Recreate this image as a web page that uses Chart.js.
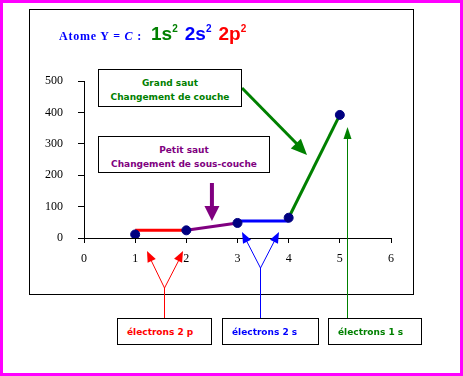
<!DOCTYPE html>
<html>
<head>
<meta charset="utf-8">
<script src="https://cdn.jsdelivr.net/npm/chart.js@4/dist/chart.umd.min.js"></script>
<style>
  html, body { margin: 0; padding: 0; background: #fff; }
  #wrap { position: relative; width: 463px; height: 376px; overflow: hidden; }
  #inner { position: absolute; left: 29px; top: 9px; width: 385px; height: 286px; box-sizing: border-box; border: 1px solid #000; }
  #frame { position: absolute; left: 0; top: 0; width: 463px; height: 376px; box-sizing: border-box; border: 3px solid #ff00ff; pointer-events: none; }
  canvas { position: absolute; left: 0; top: 0; }
  #title { position: absolute; left: 59px; top: 23px; white-space: nowrap; line-height: 20px; }
  #title .atom { font: bold 12px "Liberation Serif"; color: #0000ff; letter-spacing: 0.8px; }
  #title .big { font: bold 19px "Liberation Sans"; margin-left: 7px; }
  #title .first { margin-left: 9px; }
  #title sup { font-size: 10px; vertical-align: 8px; line-height: 0; }
  .box { position: absolute; box-sizing: border-box; border: 1px solid #000; background: #fff;
         font: bold 9px "DejaVu Sans"; line-height: 14px; white-space: nowrap; }
  .center { text-align: center; padding-top: 6px; }
  .small { padding: 6px 0 0 9px; }
</style>
</head>
<body>
<div id="wrap">
  <div id="inner"></div>
  <canvas id="chart" width="463" height="376"></canvas>
  <div id="title">
    <span class="atom">Atome Y = <i>C</i> :</span><span class="big first" style="color:#008000">1s<sup>2</sup></span><span class="big" style="color:#0000ff">2s<sup>2</sup></span><span class="big" style="color:#ff0000">2p<sup>2</sup></span>
  </div>
  <div class="box center" style="left:98px;top:69px;width:144px;height:38px;color:#008000">Grand saut<br>Changement de couche</div>
  <div class="box center" style="left:98px;top:136px;width:172px;height:37px;color:#800080">Petit saut<br>Changement de sous-couche</div>
  <div class="box small" style="left:117px;top:318px;width:95px;height:27px;color:#ff0000">électrons 2 p</div>
  <div class="box small" style="left:222px;top:318px;width:97px;height:27px;color:#0000ff">électrons 2 s</div>
  <div class="box small" style="left:328px;top:318px;width:94px;height:27px;color:#008000">électrons 1 s</div>
  <div id="frame"></div>
</div>
<script>
// energies d'ionisation successives du carbone (eV)
const electrons = [1, 2, 3, 4, 5];
const energies = [11.3, 24.4, 47.9, 64.5, 392];

// segments colores
const seg2pX = [1, 2];
const seg2pY = [24.4, 24.4];
const segSousCoucheX = [2, 3];
const segSousCoucheY = [24.4, 47.9];
const seg2sX = [3, 4];
const seg2sY = [54, 54];
const seg1sX = [4, 5];
const seg1sY = [64.5, 392];

const xTickValues = [0, 1, 2, 3, 4, 5, 6];
const yTickValues = [0, 100, 200, 300, 400, 500];

function toPoints(xs, ys) {
  return xs.map((x, i) => ({ x: x, y: ys[i] }));
}

function lineSet(xs, ys, color) {
  return {
    data: toPoints(xs, ys),
    showLine: true,
    borderColor: color,
    borderWidth: 3,
    pointRadius: 0,
    fill: false
  };
}

// fleche pleine
function arrowHead(ctx, x1, y1, x2, y2, len, w, color) {
  const a = Math.atan2(y2 - y1, x2 - x1);
  ctx.save();
  ctx.fillStyle = color;
  ctx.translate(x2, y2);
  ctx.rotate(a);
  ctx.beginPath();
  ctx.moveTo(0, 0);
  ctx.lineTo(-len, -w / 2);
  ctx.lineTo(-len, w / 2);
  ctx.closePath();
  ctx.fill();
  ctx.restore();
}

function line(ctx, pts, color, width) {
  ctx.save();
  ctx.strokeStyle = color;
  ctx.lineWidth = width;
  ctx.beginPath();
  ctx.moveTo(pts[0][0], pts[0][1]);
  for (let i = 1; i < pts.length; i++) ctx.lineTo(pts[i][0], pts[i][1]);
  ctx.stroke();
  ctx.restore();
}

const annotations = {
  id: 'annotations',
  afterDraw(chart) {
    const ctx = chart.ctx;
    const xs = chart.scales.x;

    // grand saut
    line(ctx, [[242, 88], [298, 145]], '#008000', 3);
    arrowHead(ctx, 242, 88, 307, 155, 16, 14, '#008000');

    // petit saut
    const px = xs.getPixelForValue(2.5);
    ctx.fillStyle = '#800080';
    ctx.fillRect(px - 2, 183, 4, 24);
    arrowHead(ctx, px, 183, px, 221, 15, 15, '#800080');

    // electrons 2p
    line(ctx, [[164.5, 318], [164.5, 288]], '#ff0000', 1);
    line(ctx, [[164.5, 288], [149, 256]], '#ff0000', 1);
    line(ctx, [[164.5, 288], [181, 256]], '#ff0000', 1);
    arrowHead(ctx, 164.5, 288, 147, 251, 11, 9, '#ff0000');
    arrowHead(ctx, 164.5, 288, 183, 251, 11, 9, '#ff0000');

    // electrons 2s
    line(ctx, [[260.5, 318], [260.5, 268]], '#0000ff', 1);
    line(ctx, [[260.5, 268], [244, 236]], '#0000ff', 1);
    line(ctx, [[260.5, 268], [277, 236]], '#0000ff', 1);
    arrowHead(ctx, 260.5, 268, 242, 232, 11, 9, '#0000ff');
    arrowHead(ctx, 260.5, 268, 279, 232, 11, 9, '#0000ff');

    // electrons 1s
    line(ctx, [[347.5, 318], [347.5, 135]], '#008000', 1);
    arrowHead(ctx, 347.5, 318, 347.5, 127, 12, 8, '#008000');
  }
};

const axisFont = { family: 'Liberation Serif', size: 12 };

new Chart(document.getElementById('chart'), {
  type: 'scatter',
  data: {
    datasets: [
      {
        data: toPoints(electrons, energies),
        pointRadius: 4.5,
        pointBackgroundColor: '#000080',
        pointBorderColor: '#000080',
        showLine: false
      },
      lineSet(seg2pX, seg2pY, '#ff0000'),
      lineSet(segSousCoucheX, segSousCoucheY, '#800080'),
      lineSet(seg2sX, seg2sY, '#0000ff'),
      lineSet(seg1sX, seg1sY, '#008000')
    ]
  },
  options: {
    responsive: false,
    animation: false,
    devicePixelRatio: 1,
    layout: { padding: { left: 0, top: 81, right: 72, bottom: 108 } },
    plugins: { legend: { display: false }, tooltip: { enabled: false } },
    scales: {
      x: {
        type: 'linear',
        min: 0,
        max: 6,
        afterBuildTicks: s => { s.ticks = xTickValues.map(v => ({ value: v })); },
        afterFit: s => { s.height = 30; },
        ticks: { color: '#000', font: axisFont, padding: 9, maxRotation: 0 },
        grid: { drawOnChartArea: false, color: '#000', tickLength: 5 },
        border: { color: '#000', width: 1 }
      },
      y: {
        min: 0,
        max: 500,
        afterBuildTicks: s => { s.ticks = yTickValues.map(v => ({ value: v })); },
        afterFit: s => { s.width = 84; },
        ticks: { color: '#000', font: axisFont, padding: 15 },
        grid: { drawOnChartArea: false, color: '#000', tickLength: 6 },
        border: { color: '#000', width: 1 }
      }
    }
  },
  plugins: [annotations]
});
</script>
</body>
</html>
